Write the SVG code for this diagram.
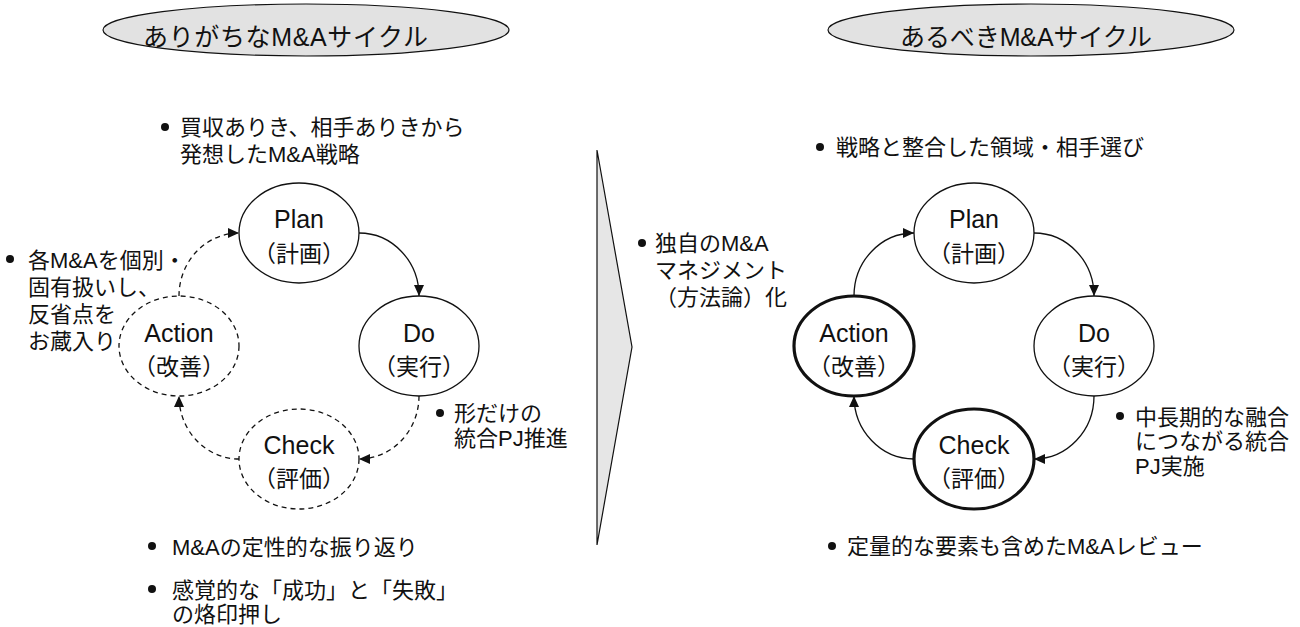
<svg xmlns="http://www.w3.org/2000/svg" width="1300" height="627" viewBox="0 0 1300 627">
<style>
.t{font-family:"Liberation Sans","Noto Sans CJK JP",sans-serif;font-size:22px;fill:#111}
.title{font-family:"Liberation Sans","Noto Sans CJK JP",sans-serif;font-size:25px;fill:#111}
.lb{font-family:"Liberation Sans","Noto Sans CJK JP",sans-serif;font-size:25px;fill:#111;text-anchor:middle}
.lj{font-family:"Liberation Sans","Noto Sans CJK JP",sans-serif;font-size:23px;fill:#111;text-anchor:middle}
.node{fill:#fff;stroke:#111;stroke-width:1.3}
.dnode{fill:#fff;stroke:#111;stroke-width:1.3;stroke-dasharray:5 4}
.bnode{fill:#fff;stroke:#111;stroke-width:3.2}
.con{fill:none;stroke:#111;stroke-width:1.3;marker-end:url(#ah)}
.dcon{fill:none;stroke:#111;stroke-width:1.3;stroke-dasharray:5 4;marker-end:url(#ah)}
.hdr{fill:#e2e2e2;stroke:#111;stroke-width:1.2}
.dot{fill:#111}
</style>
<defs>
<marker id="ah" markerUnits="userSpaceOnUse" markerWidth="12" markerHeight="10" refX="11" refY="5" orient="auto">
<path d="M0,0 L11,5 L0,10 z" fill="#111"/>
</marker>
</defs>

<g id="title-left">
<ellipse class="hdr" cx="306" cy="30" rx="203" ry="26"/>
<text class="title" x="143" y="46" textLength="285" lengthAdjust="spacing">ありがちなM&amp;Aサイクル</text>
</g>
<g id="title-right">
<ellipse class="hdr" cx="1031" cy="30" rx="203" ry="26"/>
<text class="title" x="900" y="46" textLength="252" lengthAdjust="spacing">あるべきM&amp;Aサイクル</text>
</g>

<g id="connectors">
<path class="con" d="M359,233 A60,63 0 0 1 419,296"/>
<path class="dcon" d="M419,396 A60,63 0 0 1 359,459"/>
<path class="dcon" d="M239,459 A60,63 0 0 1 179,396"/>
<path class="dcon" d="M179,296 A60,63 0 0 1 239,233"/>
<path class="con" d="M1034,233 A60,63 0 0 1 1094,296"/>
<path class="con" d="M1094,396 A60,63 0 0 1 1034,459"/>
<path class="con" d="M914,459 A60,63 0 0 1 854,396"/>
<path class="con" d="M854,296 A60,63 0 0 1 914,233"/>
</g>

<g id="left-plan">
<ellipse class="node" cx="299" cy="233" rx="60" ry="50"/>
<text class="lb" x="299" y="228">Plan</text>
<text class="lj" x="299" y="262">（計画）</text>
</g>
<g id="left-do">
<ellipse class="node" cx="419" cy="346" rx="60" ry="50"/>
<text class="lb" x="419" y="342">Do</text>
<text class="lj" x="419" y="375">（実行）</text>
</g>
<g id="left-check">
<ellipse class="dnode" cx="299" cy="459" rx="60" ry="50"/>
<text class="lb" x="299" y="454">Check</text>
<text class="lj" x="299" y="487">（評価）</text>
</g>
<g id="left-action">
<ellipse class="dnode" cx="179" cy="346" rx="60" ry="50"/>
<text class="lb" x="179" y="342">Action</text>
<text class="lj" x="179" y="375">（改善）</text>
</g>

<g id="right-plan">
<ellipse class="node" cx="974" cy="233" rx="60" ry="50"/>
<text class="lb" x="974" y="228">Plan</text>
<text class="lj" x="974" y="262">（計画）</text>
</g>
<g id="right-do">
<ellipse class="node" cx="1094" cy="346" rx="60" ry="50"/>
<text class="lb" x="1094" y="342">Do</text>
<text class="lj" x="1094" y="375">（実行）</text>
</g>
<g id="right-check">
<ellipse class="bnode" cx="974" cy="459" rx="60" ry="50"/>
<text class="lb" x="974" y="454">Check</text>
<text class="lj" x="974" y="487">（評価）</text>
</g>
<g id="right-action">
<ellipse class="bnode" cx="854" cy="346" rx="60" ry="50"/>
<text class="lb" x="854" y="342">Action</text>
<text class="lj" x="854" y="375">（改善）</text>
</g>

<g id="transition-arrow">
<polygon points="597,150 632,347 597,545" fill="#e6e6e6" stroke="#111" stroke-width="1.2"/>
</g>

<g id="note-left-plan">
<circle class="dot" cx="165" cy="127" r="4"/>
<text class="t" x="180" y="135">買収ありき、相手ありきから</text>
<text class="t" x="180" y="162">発想したM&amp;A戦略</text>
</g>
<g id="note-left-action">
<circle class="dot" cx="10" cy="259" r="4"/>
<text class="t" x="28" y="268">各M&amp;Aを個別・</text>
<text class="t" x="28" y="295">固有扱いし、</text>
<text class="t" x="28" y="322">反省点を</text>
<text class="t" x="28" y="349">お蔵入り</text>
</g>
<g id="note-left-do">
<circle class="dot" cx="440" cy="413" r="4"/>
<text class="t" x="454" y="421">形だけの</text>
<text class="t" x="454" y="446">統合PJ推進</text>
</g>
<g id="note-left-check">
<circle class="dot" cx="152" cy="546" r="4"/>
<text class="t" x="172" y="555">M&amp;Aの定性的な振り返り</text>
<circle class="dot" cx="152" cy="589" r="4"/>
<text class="t" x="172" y="598">感覚的な「成功」と「失敗」</text>
<text class="t" x="172" y="622">の烙印押し</text>
</g>
<g id="note-middle">
<circle class="dot" cx="642" cy="243" r="4"/>
<text class="t" x="655" y="251">独自のM&amp;A</text>
<text class="t" x="655" y="278">マネジメント</text>
<text class="t" x="655" y="305">（方法論）化</text>
</g>
<g id="note-right-plan">
<circle class="dot" cx="820" cy="147" r="4"/>
<text class="t" x="836" y="155">戦略と整合した領域・相手選び</text>
</g>
<g id="note-right-do">
<circle class="dot" cx="1120" cy="416" r="4"/>
<text class="t" x="1135" y="425">中長期的な融合</text>
<text class="t" x="1135" y="449">につながる統合</text>
<text class="t" x="1135" y="474">PJ実施</text>
</g>
<g id="note-right-check">
<circle class="dot" cx="832" cy="546" r="4"/>
<text class="t" x="847" y="554">定量的な要素も含めたM&amp;Aレビュー</text>
</g>
</svg>
